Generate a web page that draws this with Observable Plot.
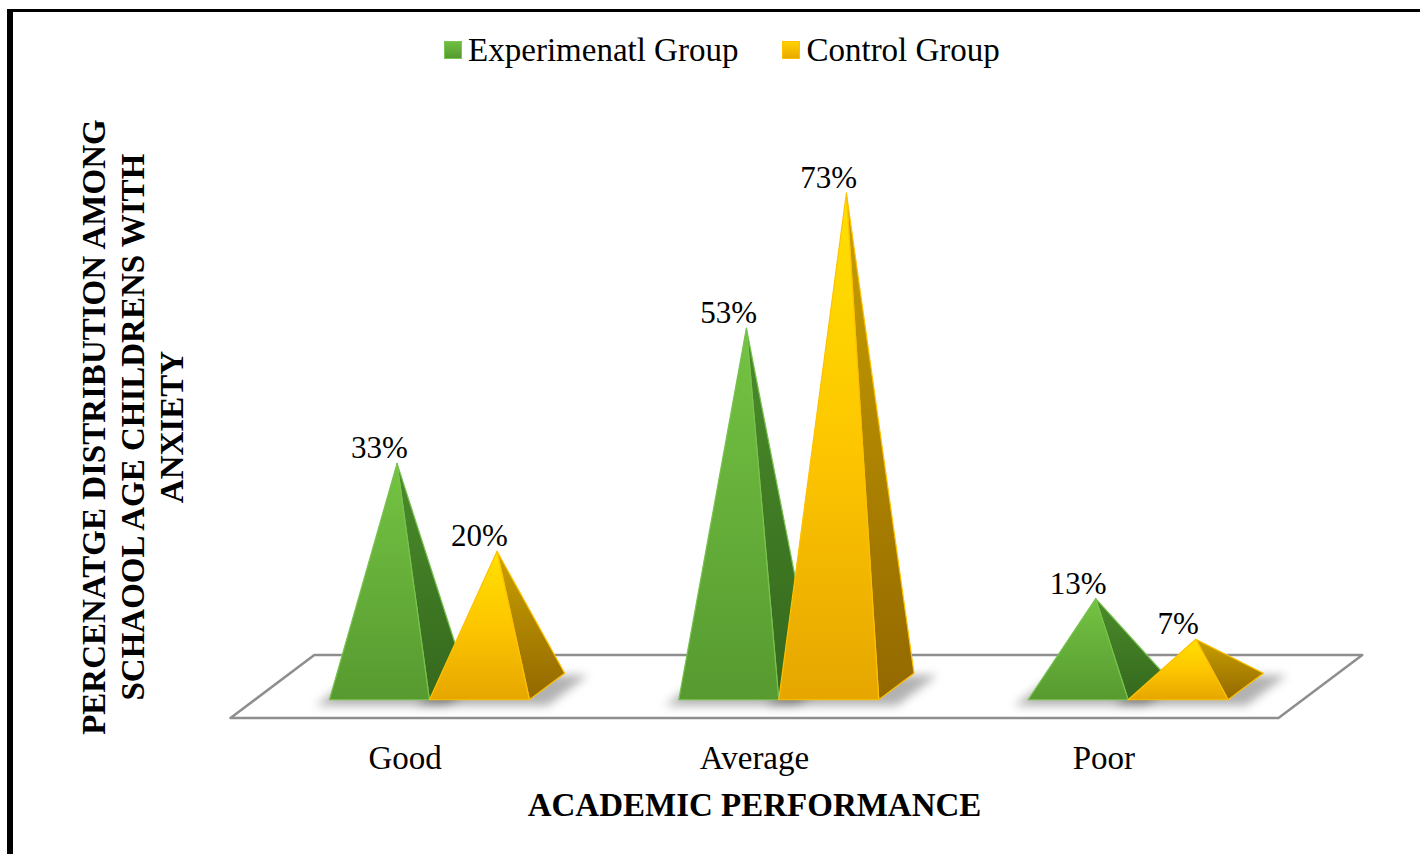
<!DOCTYPE html>
<html>
<head>
<meta charset="utf-8">
<script src="https://cdn.jsdelivr.net/npm/d3@7"></script>
<script src="https://cdn.jsdelivr.net/npm/@observablehq/plot@0.6"></script>
<style>
  html, body { margin: 0; padding: 0; background: #fff; overflow: hidden; }
  #page { position: relative; width: 1420px; height: 854px; font-family: "Liberation Serif", "Times New Roman", serif; }
  #frame { position: absolute; left: 7px; top: 9px; width: 1500px; height: 900px; box-sizing: border-box;
           border-left: 6px solid #000; border-top: 3px solid #000; pointer-events: none; }
  #legend { height: 90px; box-sizing: border-box; padding-top: 31px; padding-left: 24px;
            display: flex; justify-content: center; align-items: flex-start; font-size: 33px; line-height: 38px; color: #000; }
  .item { display: flex; align-items: center; }
  .item + .item { margin-left: 44px; }
  .swatch { width: 18px; height: 18px; margin-right: 6px; box-sizing: border-box; }
  #chart svg { display: block; }
</style>
</head>
<body>
<div id="page">
  <div id="frame"></div>
  <div id="legend"></div>
  <div id="chart"></div>
</div>
<script>
// Academic performance of school-age children with anxiety, by group (percent)
const categories = ["Good", "Average", "Poor"];
const experimental = [33, 53, 13];
const control = [20, 73, 7];
const seriesNames = ["Experimenatl Group", "Control Group"];
const xTitle = "ACADEMIC PERFORMANCE";
const yTitleLines = ["PERCENATGE DISTRIBUTION AMONG", "SCHAOOL AGE CHILDRENS WITH", "ANXIETY"];

// Layout of the plot frame
const W = 1420, H = 764;
const ML = 271.9, MR = 100.1, MT = 55.2, MB = 168;
const yMax = 80;
const pxPerCat = (W - ML - MR) / categories.length;
const pxPerPct = (H - MT - MB) / yMax;

// Oblique "3-D" look: depth is measured in screen pixels upward, shifted right by slope
const slope = 1.33;
const pyramidDepth = 26.5;
const floorDepth = 63;
const barPx = 100;
const toX = px => px / pxPerCat;
const toY = px => px / pxPerPct;
const project = (x, h, d) => ({x: x + toX(d * slope), y: h + toY(d)});

// Legend
const swatchStyles = [
  "background:linear-gradient(#6fbe40,#559a2f);border:1px solid #7cc653;",
  "background:linear-gradient(#ffd200,#e9a800);border:1px solid #ffc000;"
];
const legend = d3.select("#legend");
seriesNames.forEach((name, s) => {
  const item = legend.append("div").attr("class", "item");
  item.append("div").attr("class", "swatch").attr("style", swatchStyles[s]);
  item.append("span").text(name);
});

// One pyramid per category and series
const pyramids = [];
categories.forEach((cat, i) => {
  [experimental[i], control[i]].forEach((v, s) => {
    const w = toX(barPx);
    pyramids.push({cat, s, v, w, x0: i + 0.5 - w + s * w});
  });
});

function polygon(pts, id) {
  return [...pts, pts[0]].map(q => ({...q, id}));
}
function face(p, kind) {
  const hd = pyramidDepth / 2;
  const apex = project(p.x0 + p.w / 2, p.v, 0);
  const pts = kind === "front"
    ? [project(p.x0, 0, -hd), project(p.x0 + p.w, 0, -hd), apex]
    : [project(p.x0 + p.w, 0, -hd), project(p.x0 + p.w, 0, hd), apex];
  return polygon(pts, `${p.cat}-${p.s}-${kind}`);
}
function shadow(p) {
  const hd = pyramidDepth / 2;
  const a = p.x0 - toX(6), b = p.x0 + p.w + toX(26);
  return polygon([project(a, 0, -hd - 6), project(b, 0, -hd - 6), project(b, 0, hd - 2), project(a, 0, hd - 2)], `${p.cat}-${p.s}-shadow`);
}

const fd = floorDepth / 2;
const floor = polygon([
  project(0, 0, -fd), project(categories.length, 0, -fd),
  project(categories.length, 0, fd), project(0, 0, fd)
], "floor");

const fills = [
  {front: "url(#greenFront)", side: "url(#greenSide)", stroke: "#78c24e"},
  {front: "url(#yellowFront)", side: "url(#yellowSide)", stroke: "#ffc000"}
];

const faceMarks = [];
[0, 1].forEach(s => {
  const ps = pyramids.filter(p => p.s === s);
  faceMarks.push(
    Plot.line(ps.flatMap(p => face(p, "side")), {x: "x", y: "y", z: "id", fill: fills[s].side,
      stroke: fills[s].stroke, strokeWidth: 1.2, strokeLinejoin: "round"}),
    Plot.line(ps.flatMap(p => face(p, "front")), {x: "x", y: "y", z: "id", fill: fills[s].front,
      stroke: fills[s].stroke, strokeWidth: 1.2, strokeLinejoin: "round"})
  );
});

const frontShift = toX(-pyramidDepth / 2 * slope);
const floorShift = toX(-fd * slope);

const svg = Plot.plot({
  width: W,
  height: H,
  marginLeft: ML,
  marginRight: MR,
  marginTop: MT,
  marginBottom: MB,
  style: {fontFamily: "'Liberation Serif', 'Times New Roman', serif", background: "transparent", overflow: "visible", color: "#000"},
  x: {domain: [0, categories.length], axis: null},
  y: {domain: [0, yMax], axis: null},
  marks: [
    Plot.line(floor, {x: "x", y: "y", fill: "#fff", stroke: "#8e8e8e", strokeWidth: 2.5}),
    Plot.line(pyramids.flatMap(shadow), {x: "x", y: "y", z: "id", fill: "#000", fillOpacity: 0.3,
      stroke: "none", ariaDescription: "base shadow"}),
    ...faceMarks,
    // value labels above each apex
    Plot.text(pyramids, {x: p => p.x0 + p.w / 2 + frontShift, y: "v", text: p => `${p.v}%`,
      lineAnchor: "bottom", dy: -5, fontSize: 31, fill: "#000"}),
    // category labels along the front edge of the floor
    Plot.text(categories, {x: (d, i) => i + 0.5 + floorShift, text: d => d, frameAnchor: "bottom",
      lineAnchor: "bottom", dy: 82, fontSize: 33, fill: "#000"}),
    // axis titles
    Plot.text([xTitle], {frameAnchor: "bottom", dx: floorShift * pxPerCat, dy: 129, lineAnchor: "bottom",
      fontSize: 33, fontWeight: "bold", fill: "#000"}),
    Plot.text([yTitleLines.join("\n")], {frameAnchor: "left", textAnchor: "middle", rotate: -90, dx: -141, dy: 11,
      lineAnchor: "middle", lineHeight: 1.18, fontSize: 33, fontWeight: "bold", fill: "#000"})
  ]
});

// Gradients for the pyramid faces and blur for the base shadows
const defs = d3.select(svg).insert("defs", ":first-child");
function gradient(id, stops) {
  const g = defs.append("linearGradient").attr("id", id)
    .attr("x1", 0).attr("y1", 0).attr("x2", 0).attr("y2", 1);
  stops.forEach(([o, c]) => g.append("stop").attr("offset", o).attr("stop-color", c));
}
gradient("greenFront", [[0, "#74c343"], [1, "#579a30"]]);
gradient("greenSide", [[0, "#4a8c2b"], [1, "#35681d"]]);
gradient("yellowFront", [[0, "#ffe100"], [0.5, "#fdc600"], [1, "#e6a600"]]);
gradient("yellowSide", [[0, "#c9a000"], [1, "#936800"]]);
const blur = defs.append("filter").attr("id", "soft").attr("x", "-50%").attr("y", "-50%").attr("width", "200%").attr("height", "200%");
blur.append("feGaussianBlur").attr("stdDeviation", 5);
d3.select(svg).selectAll('g[aria-description="base shadow"]').attr("filter", "url(#soft)");

document.getElementById("chart").appendChild(svg);
</script>
</body>
</html>
